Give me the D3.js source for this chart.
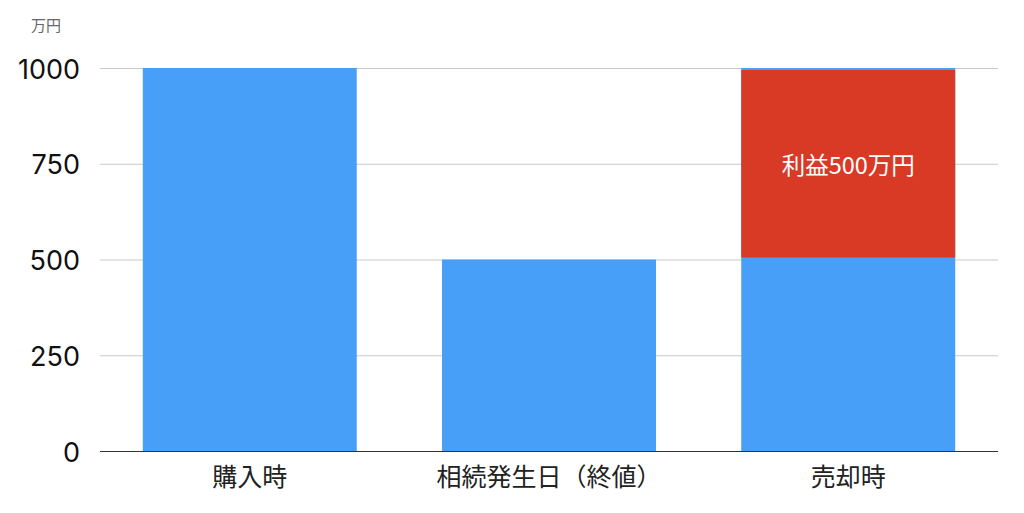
<!DOCTYPE html>
<html><head><meta charset="utf-8">
<script src="https://cdn.jsdelivr.net/npm/d3@7"></script>
<style>body{margin:0;background:#fff;}svg{display:block;font-family:"Noto Sans CJK JP","Noto Sans",sans-serif;}</style>
</head><body>
<svg id="c" width="1024" height="513"></svg>
<script>
const categories = ["購入時", "相続発生日（終値）", "売却時"];
const values = [1000, 500, 1000];
const profitRange = [500, 1000];
const profitLabel = "利益500万円";
const yTicks = [0, 250, 500, 750, 1000];
const unitLabel = "万円";

const svg = d3.select("#c");
const x = d3.scaleBand().domain(categories).range([100, 998]).paddingInner(0.285).paddingOuter(0.143);
const y = d3.scaleLinear().domain([0, 1000]).range([451, 68]);

// gridlines
svg.append("g").selectAll("line").data(yTicks.filter(d => d > 0)).join("line")
  .attr("x1", 100).attr("x2", 998)
  .attr("y1", d => y(d) + 0.5).attr("y2", d => y(d) + 0.5)
  .attr("stroke", "#c8c8c8").attr("stroke-width", 1);

// bars
svg.append("g").selectAll("rect").data(categories).join("rect")
  .attr("x", d => x(d)).attr("width", x.bandwidth())
  .attr("y", (d, i) => y(values[i])).attr("height", (d, i) => y(0) - y(values[i]))
  .attr("fill", "#479ff8");

// profit overlay
const pc = categories[2];
svg.append("rect")
  .attr("x", x(pc)).attr("width", x.bandwidth())
  .attr("y", y(profitRange[1]) + 2).attr("height", y(profitRange[0]) - y(profitRange[1]) - 4)
  .attr("fill", "#d93a26");
svg.append("text")
  .attr("x", x(pc) + x.bandwidth() / 2).attr("y", y((profitRange[0] + profitRange[1]) / 2))
  .attr("text-anchor", "middle").attr("dominant-baseline", "central")
  .attr("fill", "#fff").attr("font-size", 23.5).text(profitLabel);

// baseline
svg.append("line").attr("x1", 100).attr("x2", 998).attr("y1", y(0) + 0.5).attr("y2", y(0) + 0.5)
  .attr("stroke", "#333").attr("stroke-width", 1.2);

// y tick labels
svg.append("g").selectAll("text").data(yTicks).join("text")
  .attr("x", 80).attr("y", d => y(d) + 1)
  .attr("text-anchor", "end").attr("dominant-baseline", "central")
  .attr("fill", "#111").attr("font-size", 27)
  .style("font-family", "Inter, 'Noto Sans', sans-serif")
  .text(d => d);

// unit
svg.append("text").attr("x", 31).attr("y", 24).attr("dominant-baseline", "central")
  .attr("fill", "#666").attr("font-size", 15).text(unitLabel);

// category labels
svg.append("g").selectAll("text").data(categories).join("text")
  .attr("x", d => x(d) + x.bandwidth() / 2).attr("y", 475)
  .attr("text-anchor", "middle").attr("dominant-baseline", "central")
  .attr("fill", "#222").attr("font-size", 25).text(d => d);
</script>
</body></html>
